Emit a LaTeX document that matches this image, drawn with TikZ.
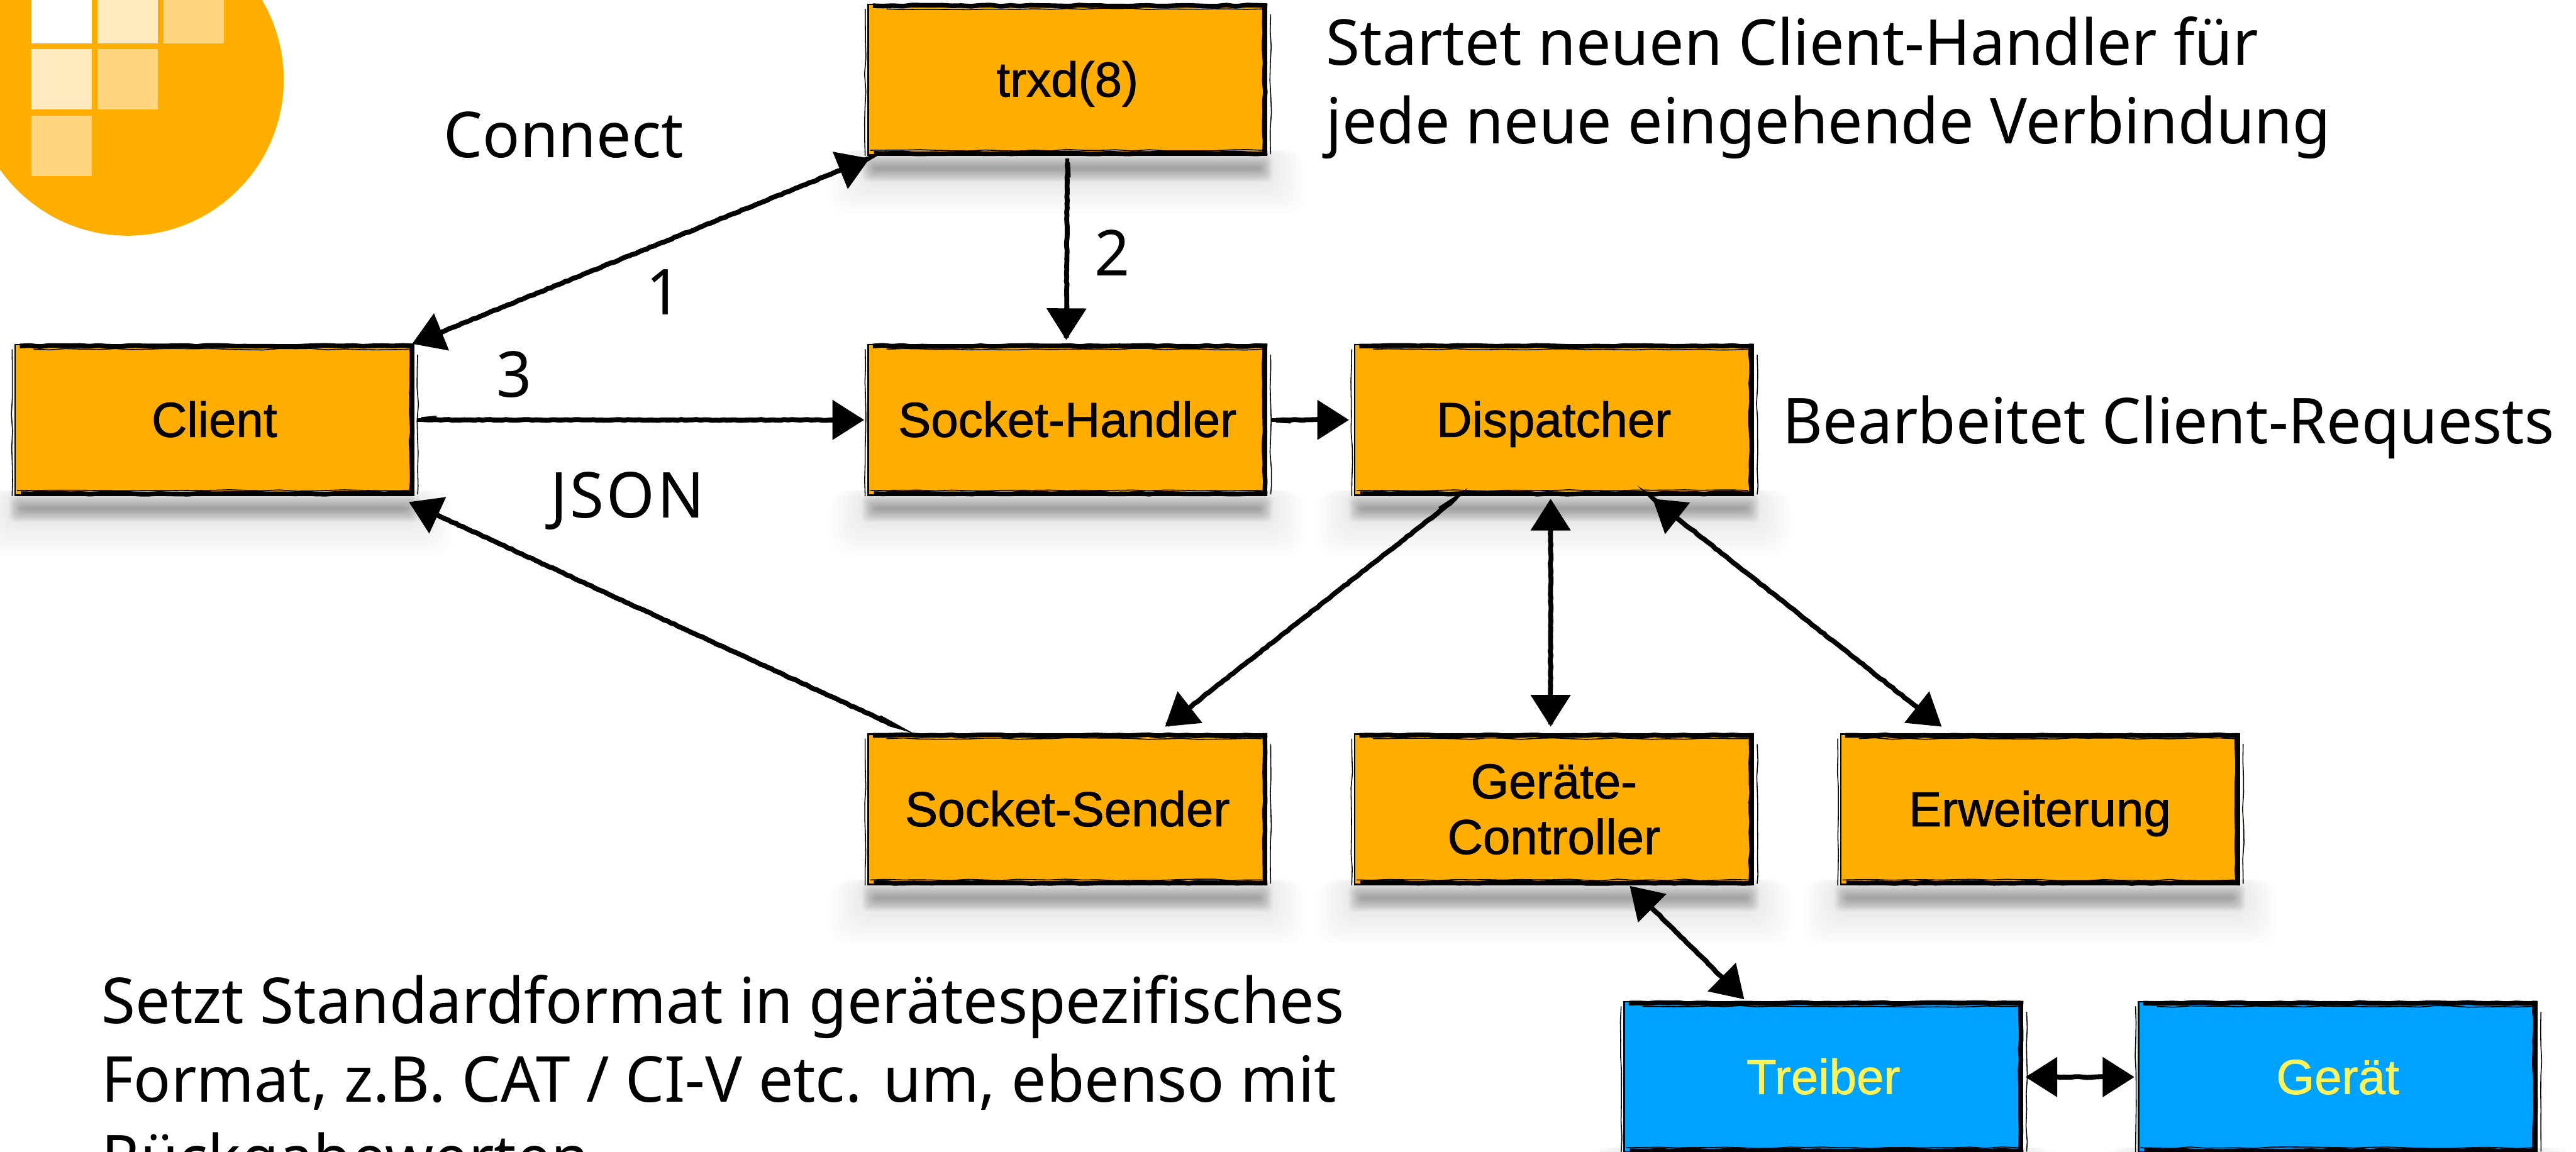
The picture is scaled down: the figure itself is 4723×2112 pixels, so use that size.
\documentclass[tikz,border=0pt]{standalone}
\usepackage{fontspec}
\setmainfont{Noto Sans}[FakeStretch=0.976]
\newfontfamily\boxfont{Liberation Sans}[FakeBold=1.1]
\usetikzlibrary{arrows.meta,backgrounds,decorations.pathmorphing}
\definecolor{orangebox}{HTML}{FFAE00}
\definecolor{bluebox}{HTML}{00A2FF}
\definecolor{yellowtext}{HTML}{FFF35A}
\definecolor{logolight}{HTML}{FFE9BF}
\definecolor{logomid}{HTML}{FFD580}
\tikzset{
  x=0.01cm,y=-0.01cm,
  sketchbox/.style={draw=black,line width=0.03cm,minimum width=7.3cm,minimum height=2.76cm,inner sep=0pt,align=center,
    font=\boxfont\fontsize{25.6}{29}\selectfont},
  orangenode/.style={sketchbox,fill=orangebox,text=black},
  bluenode/.style={sketchbox,fill=bluebox,text=yellowtext},
  oneline/.style={text height=0.62cm,text depth=0pt},
  heavyedge/.style={line width=0.085cm,draw=black,decorate,decoration={random steps,segment length=0.18cm,amplitude=0.012cm}},
  thinedge/.style={line width=0.018cm,draw=black,decorate,decoration={random steps,segment length=0.3cm,amplitude=0.015cm}},
  roughline/.style={postaction={draw=black,-,line width=0.09cm,shorten >=0.35cm,shorten <=0.35cm,decorate,decoration={random steps,segment length=0.07cm,amplitude=0.008cm}}},
  headend/.style={line width=0.07cm,roughline,-{Triangle[length=0.58cm,width=0.72cm]}},
  headboth/.style={line width=0.07cm,roughline,{Triangle[length=0.58cm,width=0.72cm]}-{Triangle[length=0.58cm,width=0.72cm]}},
  note/.style={font=\fontsize{33}{41}\selectfont,align=left,inner sep=0pt,anchor=base west},
  num/.style={font=\fontsize{33}{41}\selectfont,inner sep=0pt},
}
\newcommand{\heavy}[1]{%
  \draw[heavyedge] ([xshift=0.1cm,yshift=-0.04cm]#1.north west) -- ([yshift=-0.04cm]#1.north east);
  \draw[heavyedge] ([xshift=-0.05cm]#1.north east) -- ([xshift=-0.05cm]#1.south east);
  \draw[heavyedge] ([xshift=0.12cm,yshift=0.045cm]#1.south west) -- ([yshift=0.045cm]#1.south east);
  \draw[thinedge] ([xshift=0.35cm,yshift=-0.1cm]#1.north west) -- ([xshift=-0.1cm,yshift=-0.1cm]#1.north east);
  \draw[thinedge] ([xshift=0.05cm,yshift=0.1cm]#1.south west) -- ([xshift=-0.1cm,yshift=0.1cm]#1.south east);
  \draw[thinedge] ([xshift=0.06cm,yshift=-0.2cm]#1.north east) -- ([xshift=0.06cm,yshift=0.03cm]#1.south east);
  \draw[thinedge] ([xshift=-0.04cm,yshift=-0.1cm]#1.north west) -- ([xshift=-0.04cm]#1.south west);
}
\newcommand{\softshadow}[1]{%
  \foreach \e in {0,3,...,75}{
    \fill[black,opacity=0.0035,rounded corners=0.3cm]
      ([xshift=-\e*0.01cm+0.05cm,yshift=0.1cm]#1.south west) rectangle ([xshift=\e*0.01cm-0.05cm,yshift=-0.35cm-\e*0.01cm]#1.south east);
  }
  \foreach \e in {0,2,...,22}{
    \fill[black,opacity=0.028,rounded corners=0.1cm]
      ([xshift=0.12cm-\e*0.01cm,yshift=-0.2cm+\e*0.01cm]#1.south west) rectangle ([xshift=\e*0.01cm-0.12cm,yshift=-0.26cm-\e*0.01cm]#1.south east);
  }
}
\begin{document}
\begin{tikzpicture}
\useasboundingbox (0,0) rectangle (4723,2112);
\clip (0,0) rectangle (4723,2112);
\pgfmathsetseed{42}
% logo
\fill[orangebox] (234,146) circle[radius=2.86cm];
\fill[white] (58,-40) rectangle (168,79);
\fill[logolight] (179,-40) rectangle (289,79);
\fill[logomid] (300,-40) rectangle (410,79);
\fill[logolight] (58,90) rectangle (168,201);
\fill[logomid] (179,90) rectangle (289,201);
\fill[logomid] (58,212) rectangle (168,323);
% boxes
\node[orangenode,oneline] (trxd) at (1957,146) {trxd(8)};
\node[orangenode,oneline] (client) at (393,770) {Client};
\node[orangenode,oneline] (handler) at (1957,770) {Socket-Handler};
\node[orangenode,oneline] (disp) at (2849,770) {Dispatcher};
\node[orangenode,oneline] (sender) at (1957,1484) {Socket-Sender};
\node[orangenode] (ctrl) at (2849,1484) {Geräte-\\Controller};
\node[orangenode,oneline] (erw) at (3740,1484) {Erweiterung};
\node[bluenode,oneline] (treiber) at (3343,1975) {Treiber};
\node[bluenode,oneline] (geraet) at (4286,1975) {Gerät};
\foreach \b in {trxd,client,handler,disp,sender,ctrl,erw,treiber,geraet}{\heavy{\b}}
\begin{scope}[on background layer]
\foreach \b in {trxd,client,handler,disp,sender,ctrl,erw,treiber,geraet}{\softshadow{\b}}
\end{scope}
% connectors
\draw[headboth] ([xshift=0.04cm,yshift=-0.05cm]trxd.south west) -- ([xshift=-0.04cm]client.north east);
\draw[headend] ([yshift=-0.05cm]trxd.south) -- ([xshift=-0.02cm,yshift=0.07cm]handler.north);
\draw[headend] ([xshift=0.06cm]client.east) -- ([xshift=-0.06cm]handler.west);
\draw[headend] ([xshift=0.08cm]handler.east) -- ([xshift=-0.09cm]disp.west);
\draw[headend] ([xshift=0.53cm,yshift=0.12cm]sender.north west) -- ([xshift=-0.1cm,yshift=-0.11cm]client.south east);
\draw[headend] ([xshift=-1.8cm,yshift=-0.05cm]disp.south) -- ([xshift=1.79cm,yshift=0.12cm]sender.north);
\draw[headboth] ([xshift=-0.06cm,yshift=-0.05cm]disp.south) -- ([xshift=-0.06cm,yshift=0.12cm]ctrl.north);
\draw[headboth] ([xshift=1.81cm,yshift=-0.05cm]disp.south) -- ([xshift=-1.8cm,yshift=0.12cm]erw.north);
\draw[headboth] ([xshift=1.39cm,yshift=-0.01cm]ctrl.south) -- ([xshift=-1.45cm,yshift=0.03cm]treiber.north);
\draw[headboth] ([xshift=0.04cm]treiber.east) -- ([xshift=-0.06cm]geraet.west);
% labels
\node[note] (connect) at (813,289) {Connect};
\node[note] (start) at (2431,264) {Startet neuen Client-Handler für\\jede neue eingehende Verbindung};
\node[num] (one) at (1217,536) {1};
\node[num] (two) at (2039,464) {2};
\node[num] (three) at (943,687) {3};
\node[note] (json) at (1009,949) {\addfontfeature{LetterSpace=4}JSON};
\node[note] (bearb) at (3268,813) {Bearbeitet Client-Requests};
\node[note] (setzt) at (186,2165) {Setzt Standardformat in gerätespezifisches\\Format, z.B. CAT / CI-V etc. um, ebenso mit\\Rückgabewerten};
\end{tikzpicture}
\end{document}
